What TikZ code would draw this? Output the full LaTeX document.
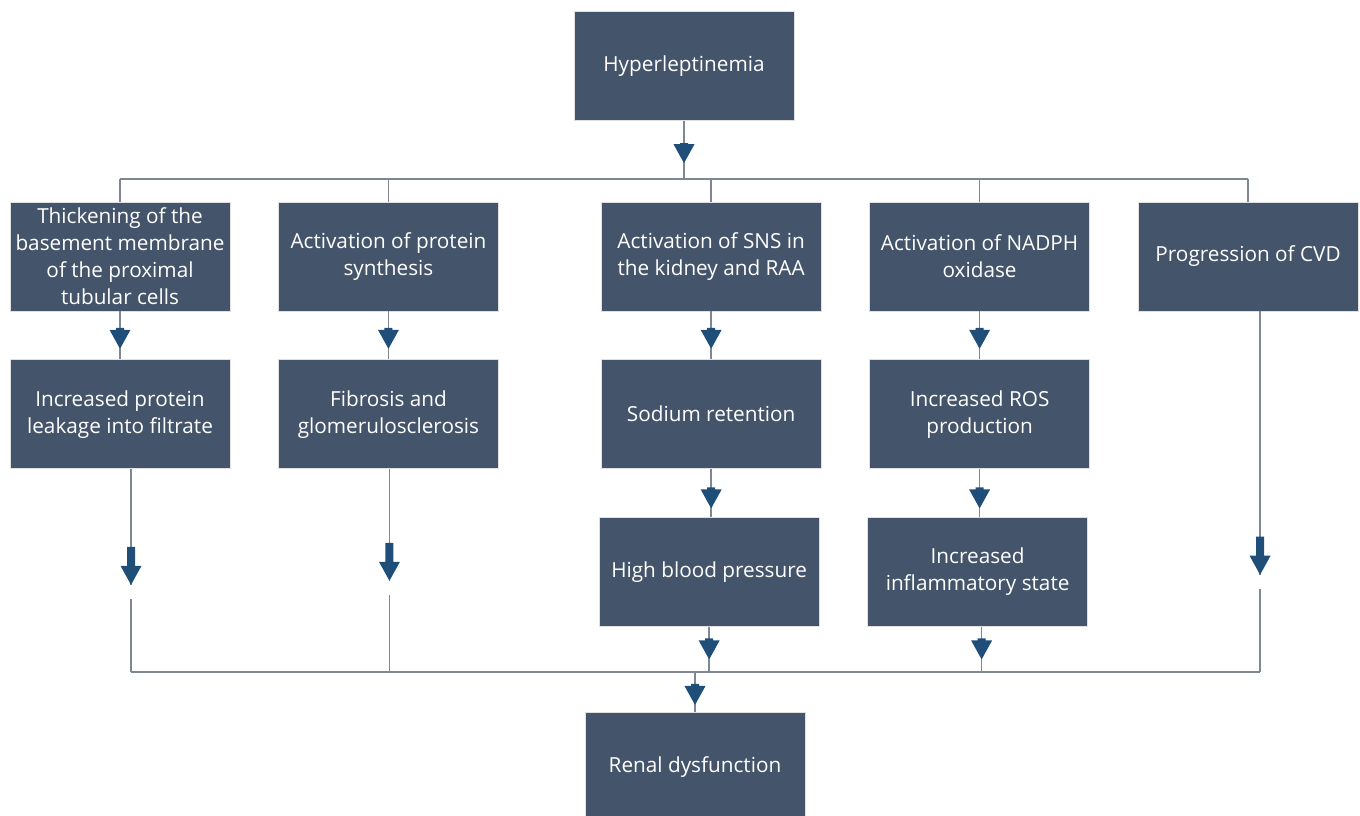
\documentclass[tikz,border=0pt]{standalone}
\usepackage{fontspec}
\setmainfont{Open Sans}
\usetikzlibrary{calc,positioning,decorations.markings}
\definecolor{boxslate}{HTML}{44546A}
\definecolor{arrowblue}{HTML}{1F4E79}
\definecolor{linegray}{HTML}{7F8795}
\tikzset{
  box/.style={draw=black!12, fill=boxslate, text=white, align=center,
    minimum width=4.4cm, minimum height=2.18cm, inner sep=2pt,
    font=\fontsize{11.8}{15.3}\selectfont},
  link/.style={draw=linegray, line width=0.8pt},
  flow/.style n args={3}{link, postaction={decorate},
    decoration={markings, mark=at position #1 with {
      \fill[white] (0,-0.06) rectangle (#3,0.06);
      \fill[arrowblue] (0,0) -- (-0.38,0.21) -- (-0.38,0.08) -- (-0.38-#2,0.08)
        -- (-0.38-#2,-0.08) -- (-0.38,-0.08) -- (-0.38,-0.21) -- cycle;}}}
}

\begin{document}
\begin{tikzpicture}[node distance=0.96cm and 0.955cm]
  \useasboundingbox (0,0) rectangle (27.2,-16.32);

  % top cause
  \node[box] (hyp) at (13.68,-1.32) {Hyperleptinemia};

  % first row of effects
  \node[box] (t1) at (2.4,-5.13) {Thickening of the\\basement membrane\\of the proximal\\tubular cells};
  \node[box, right=of t1] (t2) {Activation of protein\\synthesis};
  \node[box, right=2.04cm of t2] (t3) {Activation of SNS in\\the kidney and RAA};
  \node[box, right=of t3] (t4) {Activation of NADPH\\oxidase};
  \node[box, right=of t4] (t5) {Progression of CVD};

  % second and third rows
  \node[box, below=of t1] (m1) {Increased protein\\leakage into filtrate};
  \node[box, below=of t2] (m2) {Fibrosis and\\glomerulosclerosis};
  \node[box, below=of t3] (m3) {Sodium retention};
  \node[box, below=of t4] (m4) {Increased ROS\\production};
  \node[box, below=of m3, xshift=-0.04cm] (b3) {High blood pressure};
  \node[box, below=of m4, xshift=-0.04cm] (b4) {Increased\\inflammatory state};

  % outcome
  \node[box] (renal) at (13.9,-15.34) {Renal dysfunction};

  % upper bus
  \coordinate (busT) at ($(hyp.south)+(0,-1.16)$);
  \draw[flow={0.73}{0.02}{0}] (hyp) -- (busT);
  \draw[link] (busT -| t1) -- (busT -| t5);
  \foreach \n in {t1,t2,t3,t4,t5}
    \draw[link] (busT -| \n) -- (\n);

  % arrows between rows
  \foreach \a/\b in {t1/m1,t2/m2,t3/m3,t4/m4}
    \draw[flow={0.78}{0.04}{0}] (\a) -- (\b);
  \draw[flow={0.82}{0.04}{0}] (m3.south) -- (m3.south |- b3.north);
  \draw[flow={0.82}{0.04}{0}] (m4.south) -- (m4.south |- b4.north);

  % lower bus
  \coordinate (busB) at ($(renal.north)+(0,0.8)$);
  \coordinate (c1) at ([xshift=0.22cm]m1.south);
  \coordinate (c2) at ([xshift=0.02cm]m2.south);
  \coordinate (c5) at ([xshift=0.24cm]t5.south);
  \draw[flow={0.57}{0.38}{0.28}] (c1) -- (c1 |- busB);
  \draw[flow={0.55}{0.38}{0.28}] (c2) -- (c2 |- busB);
  \draw[flow={0.73}{0.38}{0.28}] (c5) -- (c5 |- busB);
  \draw[flow={0.72}{0.04}{0}] (b3) -- (b3 |- busB);
  \draw[flow={0.72}{0.04}{0}] ([xshift=0.08cm]b4.south) -- ([xshift=0.08cm]b4.south |- busB);
  \draw[link] (c1 |- busB) -- (c5 |- busB);
  \draw[flow={0.82}{0.04}{0}] (busB) -- (renal);
\end{tikzpicture}
\end{document}
